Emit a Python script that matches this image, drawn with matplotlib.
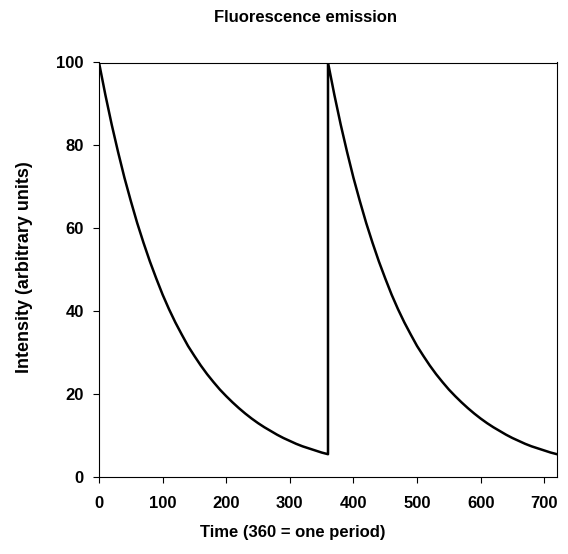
import matplotlib
matplotlib.use("Agg")
import matplotlib.pyplot as plt

# First excitation period
time_1 = [0, 10, 20, 30, 40, 50, 60, 70, 80, 90, 100, 110, 120, 130, 140, 150, 160, 170, 180,
          190, 200, 210, 220, 230, 240, 250, 260, 270, 280, 290, 300, 310, 320, 330, 340, 350, 360]
intensity_1 = [100, 92.2, 85.0, 78.4, 72.2, 66.6, 61.3, 56.5, 52.0, 47.9, 44.0, 40.5, 37.3, 34.4,
               31.6, 29.2, 26.9, 24.8, 22.9, 21.1, 19.5, 18.0, 16.6, 15.3, 14.1, 13.0, 12.0, 11.1,
               10.2, 9.4, 8.7, 8.0, 7.4, 6.9, 6.4, 5.9, 5.5]
# Second excitation period
time_2 = [360, 370, 380, 390, 400, 410, 420, 430, 440, 450, 460, 470, 480, 490, 500, 510, 520, 530,
          540, 550, 560, 570, 580, 590, 600, 610, 620, 630, 640, 650, 660, 670, 680, 690, 700, 710, 720]
intensity_2 = [100, 92.2, 85.0, 78.4, 72.2, 66.6, 61.3, 56.5, 52.0, 47.9, 44.0, 40.5, 37.3, 34.4,
               31.6, 29.2, 26.9, 24.8, 22.9, 21.1, 19.5, 18.0, 16.6, 15.3, 14.1, 13.0, 12.0, 11.1,
               10.2, 9.4, 8.7, 8.0, 7.4, 6.9, 6.4, 5.9, 5.5]

x_ticks = [0, 100, 200, 300, 400, 500, 600, 700]
y_ticks = [0, 20, 40, 60, 80, 100]

plt.rcParams['font.family'] = ['Liberation Sans', 'DejaVu Sans']
plt.rcParams['font.weight'] = 'bold'

fig = plt.figure(figsize=(5.68, 5.54), dpi=100)
ax = fig.add_axes([99/568, 1-477/554, (557-99)/568, (477-62.5)/554])

ax.plot(time_1 + time_2, intensity_1 + intensity_2, color='black', linewidth=1.8,
        solid_joinstyle='round')

ax.set_xlim(0, 720)
ax.set_ylim(0, 100)
ax.set_xticks(x_ticks)
ax.set_yticks(y_ticks)
ax.tick_params(axis='x', direction='out', length=4, width=0.8, pad=10, labelsize=12)
ax.tick_params(axis='y', direction='out', length=4, width=0.8, pad=7, labelsize=12)
for lab in ax.get_xticklabels() + ax.get_yticklabels():
    lab.set_fontweight('bold')
for s in ax.spines.values():
    s.set_linewidth(0.8)

fig.text(306/568, 1-18/554, 'Fluorescence emission', ha='center', va='center',
         fontsize=12, fontweight='bold')
fig.text(293/568, 1-532/554, 'Time (360 = one period)', ha='center', va='center',
         fontsize=12, fontweight='bold')
fig.text(25/568, 1-267/554, 'Intensity (arbitrary units)', ha='center', va='center',
         rotation=90, fontsize=13, fontweight='bold')

fig.savefig('out.png', dpi=100)
